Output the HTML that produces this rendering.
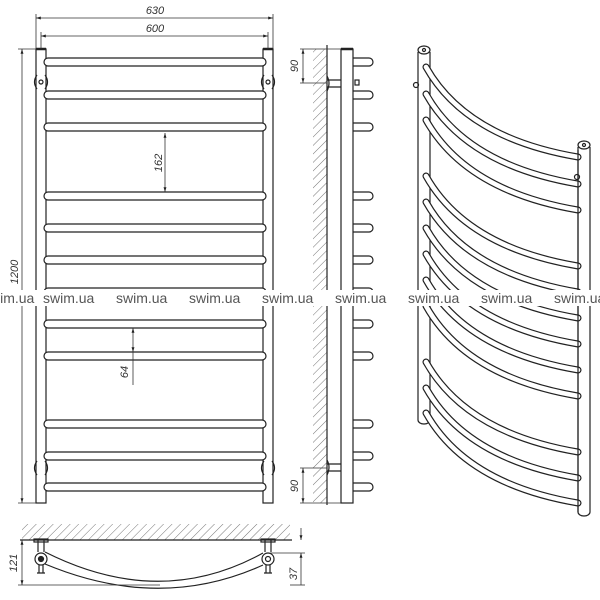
<!DOCTYPE html>
<html><head><meta charset="utf-8"><style>
html,body{margin:0;padding:0;background:#fff;}
svg{display:block;}
text{font-family:"Liberation Sans",sans-serif;}
</style></head><body>
<svg width="600" height="600" viewBox="0 0 600 600" xmlns="http://www.w3.org/2000/svg">
<defs>
<pattern id="h" width="6" height="6" patternUnits="userSpaceOnUse" patternTransform="rotate(45)">
<line x1="0" y1="0" x2="0" y2="6" stroke="#777" stroke-width="1"/>
</pattern>
<marker id="a" viewBox="0 0 10 10" refX="10" refY="5" markerWidth="8" markerHeight="6" orient="auto-start-reverse"><path d="M0,2 L10,5 L0,8z" fill="#222"/></marker>
</defs>
<g fill="none" stroke="#222" stroke-width="1.2">
<rect x="36" y="49" width="10" height="454" fill="#fff"/>
<rect x="263" y="49" width="10" height="454" fill="#fff"/>
<line x1="36" y1="49" x2="46" y2="49" stroke-width="2.5"/>
<line x1="263" y1="49" x2="273" y2="49" stroke-width="2.5"/>
<g fill="#fff">
<rect x="44" y="58" width="222" height="8" rx="4"/>
<rect x="44" y="91" width="222" height="8" rx="4"/>
<rect x="44" y="123" width="222" height="8" rx="4"/>
<rect x="44" y="192" width="222" height="8" rx="4"/>
<rect x="44" y="224" width="222" height="8" rx="4"/>
<rect x="44" y="256" width="222" height="8" rx="4"/>
<rect x="44" y="288" width="222" height="8" rx="4"/>
<rect x="44" y="320" width="222" height="8" rx="4"/>
<rect x="44" y="352" width="222" height="8" rx="4"/>
<rect x="44" y="420" width="222" height="8" rx="4"/>
<rect x="44" y="452" width="222" height="8" rx="4"/>
<rect x="44" y="483" width="222" height="8" rx="4"/>
</g>
<path d="M37,75 q-5,7 0,14 M45,75 q5,7 0,14"/><circle cx="41" cy="82" r="2"/>
<path d="M264,75 q-5,7 0,14 M272,75 q5,7 0,14"/><circle cx="268" cy="82" r="2"/>
<path d="M37,461 q-5,7 0,14 M45,461 q5,7 0,14"/>
<path d="M264,461 q-5,7 0,14 M272,461 q5,7 0,14"/>
</g>
<g stroke="#333" stroke-width="0.8" fill="none">
<line x1="36" y1="14" x2="36" y2="49"/><line x1="273" y1="14" x2="273" y2="49"/>
<line x1="36" y1="18" x2="273" y2="18" marker-start="url(#a)" marker-end="url(#a)"/>
<line x1="41" y1="32" x2="41" y2="49"/><line x1="268" y1="32" x2="268" y2="49"/>
<line x1="41" y1="36" x2="268" y2="36" marker-start="url(#a)" marker-end="url(#a)"/>
<line x1="18" y1="49" x2="36" y2="49"/><line x1="18" y1="503" x2="36" y2="503"/>
<line x1="22" y1="49" x2="22" y2="503" marker-start="url(#a)" marker-end="url(#a)"/>
<line x1="165" y1="133" x2="165" y2="192" marker-start="url(#a)" marker-end="url(#a)"/>
<line x1="133" y1="328" x2="133" y2="352" marker-start="url(#a)" marker-end="url(#a)"/>
<line x1="133" y1="352" x2="133" y2="385"/>
</g>
<g font-style="italic" font-size="11" fill="#333">
<text x="155" y="14" text-anchor="middle">630</text>
<text x="155" y="32" text-anchor="middle">600</text>
<text transform="translate(18,272) rotate(-90)" text-anchor="middle">1200</text>
<text transform="translate(162,163) rotate(-90)" text-anchor="middle">162</text>
<text transform="translate(128,372) rotate(-90)" text-anchor="middle">64</text>
</g>
<rect x="313" y="49" width="14" height="454" fill="url(#h)"/>
<g fill="none" stroke="#222" stroke-width="1.2">
<line x1="327" y1="45" x2="327" y2="505"/>
<rect x="341" y="49" width="12" height="454" fill="#fff"/>
<line x1="341" y1="49" x2="353" y2="49" stroke-width="2.5"/>
<path d="M353,58 H369 a4,4 0 0 1 0,8 H353"/>
<path d="M353,91 H369 a4,4 0 0 1 0,8 H353"/>
<path d="M353,123 H369 a4,4 0 0 1 0,8 H353"/>
<path d="M353,192 H369 a4,4 0 0 1 0,8 H353"/>
<path d="M353,224 H369 a4,4 0 0 1 0,8 H353"/>
<path d="M353,256 H369 a4,4 0 0 1 0,8 H353"/>
<path d="M353,288 H369 a4,4 0 0 1 0,8 H353"/>
<path d="M353,320 H369 a4,4 0 0 1 0,8 H353"/>
<path d="M353,352 H369 a4,4 0 0 1 0,8 H353"/>
<path d="M353,420 H369 a4,4 0 0 1 0,8 H353"/>
<path d="M353,452 H369 a4,4 0 0 1 0,8 H353"/>
<path d="M353,483 H369 a4,4 0 0 1 0,8 H353"/>
<path d="M327,80 H341 M327,87 H341 M327,76 q4,7 0,15" />
<path d="M327,464 H341 M327,471 H341 M327,460 q4,7 0,15" />
<rect x="355" y="80" width="4" height="5"/>
</g>
<g stroke="#333" stroke-width="0.8" fill="none">
<line x1="300" y1="49" x2="341" y2="49"/><line x1="300" y1="83" x2="327" y2="83"/>
<line x1="303" y1="49" x2="303" y2="83" marker-start="url(#a)" marker-end="url(#a)"/>
<line x1="300" y1="468" x2="327" y2="468"/><line x1="300" y1="503" x2="341" y2="503"/>
<line x1="303" y1="468" x2="303" y2="503" marker-start="url(#a)" marker-end="url(#a)"/>
</g>
<g font-style="italic" font-size="11" fill="#333">
<text transform="translate(298,66) rotate(-90)" text-anchor="middle">90</text>
<text transform="translate(298,486) rotate(-90)" text-anchor="middle">90</text>
</g>
<g fill="none" stroke="#222" stroke-width="1.2">
<path d="M418,52 V420 a6,4 0 0 0 12,0 V52" fill="#fff"/>
<ellipse cx="424" cy="50" rx="6" ry="4" fill="#fff"/><circle cx="424" cy="50" r="1.5"/>
<path d="M578,147 V512 a6,4 0 0 0 12,0 V147" fill="#fff"/>
<ellipse cx="584" cy="145" rx="6" ry="4" fill="#fff"/><circle cx="584" cy="145" r="1.5"/>
<circle cx="416" cy="85" r="2.5"/><circle cx="577" cy="177" r="2.5"/>
</g>
<g fill="none" stroke-linecap="round">
<g stroke="#222" stroke-width="7">
<path d="M426,67 Q466,138 578,157"/><path d="M426,94 Q466,165 578,184"/><path d="M426,120 Q466,191 578,210"/>
<path d="M426,176 Q466,247 578,266"/><path d="M426,202 Q466,273 578,292"/><path d="M426,228 Q466,299 578,318"/>
<path d="M426,254 Q466,325 578,344"/><path d="M426,280 Q466,351 578,370"/><path d="M426,306 Q466,377 578,396"/>
<path d="M426,362 Q466,433 578,452"/><path d="M426,388 Q466,459 578,478"/><path d="M426,413 Q466,484 578,503"/>
</g>
<g stroke="#fff" stroke-width="4.6">
<path d="M426,67 Q466,138 578,157"/><path d="M426,94 Q466,165 578,184"/><path d="M426,120 Q466,191 578,210"/>
<path d="M426,176 Q466,247 578,266"/><path d="M426,202 Q466,273 578,292"/><path d="M426,228 Q466,299 578,318"/>
<path d="M426,254 Q466,325 578,344"/><path d="M426,280 Q466,351 578,370"/><path d="M426,306 Q466,377 578,396"/>
<path d="M426,362 Q466,433 578,452"/><path d="M426,388 Q466,459 578,478"/><path d="M426,413 Q466,484 578,503"/>
</g>
</g>
<line x1="578" y1="150" x2="578" y2="512" stroke="#222" stroke-width="1.2"/>
<rect x="22" y="524" width="268" height="16" fill="url(#h)"/>
<g fill="none" stroke="#222" stroke-width="1.2">
<line x1="20" y1="540" x2="292" y2="540"/>
<path d="M45,552 Q160,610 263,553 M45,564 Q160,612 263,565"/>
<path d="M38,540 v12 M44,540 v12 M265,540 v12 M271,540 v12"/>
<rect x="34" y="539" width="14" height="3"/><rect x="261" y="539" width="14" height="3"/>
<circle cx="41" cy="559" r="6" fill="#fff"/><circle cx="41" cy="559" r="2.5" fill="#222"/>
<circle cx="268" cy="559" r="6" fill="#fff"/><circle cx="268" cy="559" r="2.5"/>
<path d="M39,565 v8 M43,565 v8 M37,573 h8 M266,565 v8 M270,565 v8 M264,573 h8"/>
</g>
<g stroke="#333" stroke-width="0.8" fill="none">
<line x1="18" y1="585" x2="160" y2="585"/>
<line x1="22" y1="540" x2="22" y2="585" marker-start="url(#a)" marker-end="url(#a)"/>
<line x1="270" y1="553" x2="305" y2="553"/><line x1="290" y1="585" x2="305" y2="585"/>
<line x1="301" y1="528" x2="301" y2="540" marker-end="url(#a)"/>
<line x1="301" y1="553" x2="301" y2="585" marker-start="url(#a)"/>
</g>
<g font-style="italic" font-size="11" fill="#333">
<text transform="translate(17,563) rotate(-90)" text-anchor="middle">121</text>
<text transform="translate(297,574) rotate(-90)" text-anchor="middle">37</text>
</g>
<rect x="0" y="290" width="600" height="16" fill="#fff"/>
<g font-size="14" fill="#555">
<text x="-17" y="303">swim.ua</text>
<text x="43" y="303">swim.ua</text>
<text x="116" y="303">swim.ua</text>
<text x="189" y="303">swim.ua</text>
<text x="262" y="303">swim.ua</text>
<text x="335" y="303">swim.ua</text>
<text x="408" y="303">swim.ua</text>
<text x="481" y="303">swim.ua</text>
<text x="554" y="303">swim.ua</text>
</g>
</svg>
</body></html>
